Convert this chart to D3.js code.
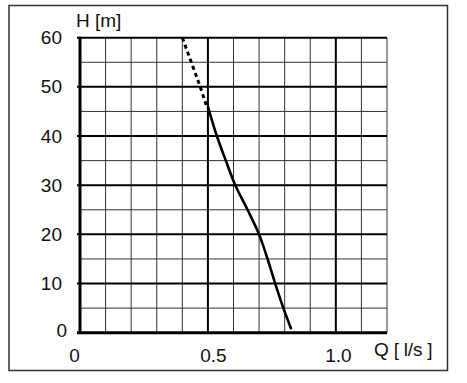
<!DOCTYPE html>
<html><head><meta charset="utf-8">
<script src="https://cdn.jsdelivr.net/npm/d3@7"></script>
<style>body{margin:0;background:#fff;} text{font-family:"Liberation Sans",Arial,sans-serif;fill:#111;}</style>
</head><body><svg id="c" width="467" height="383"></svg>
<script>
const xTicks = [0, 0.5, 1.0];
const xTickLabels = ["0", "0.5", "1.0"];
const yTicks = [0, 10, 20, 30, 40, 50, 60];
const yTickLabels = ["0", "10", "20", "30", "40", "50", "60"];
const xMinor = [0.1,0.2,0.3,0.4,0.6,0.7,0.8,0.9,1.1,1.2];
const yMinor = [5,15,25,35,45,55];
const solidQ = [0.5, 0.535, 0.57, 0.607, 0.655, 0.70, 0.73, 0.763, 0.795, 0.826];
const solidH = [46, 40, 35, 30, 25, 20, 15.5, 10, 5, 0.7];
const dottedQ = [0.40, 0.435, 0.47, 0.495];
const dottedH = [60, 55, 50, 46];

const svg = d3.select("#c");
const x = d3.scaleLinear().domain([0, 1.2]).range([80, 387]);
const y = d3.scaleLinear().domain([0, 60]).range([332.7, 37.7]);

svg.append("rect").attr("x",9).attr("y",5.5).attr("width",438.5).attr("height",365)
  .attr("fill","none").attr("stroke","#333").attr("stroke-width",1.5);

const g = svg.append("g");
g.selectAll(".vm").data(xMinor).join("line")
  .attr("x1",d=>x(d)).attr("x2",d=>x(d)).attr("y1",y(0)).attr("y2",y(60))
  .attr("stroke","#333").attr("stroke-width",1);
g.selectAll(".hm").data(yMinor).join("line")
  .attr("y1",d=>y(d)).attr("y2",d=>y(d)).attr("x1",x(0)).attr("x2",x(1.2))
  .attr("stroke","#333").attr("stroke-width",1);
g.selectAll(".vM").data(xTicks.filter(d=>d>0)).join("line")
  .attr("x1",d=>x(d)).attr("x2",d=>x(d)).attr("y1",y(0)).attr("y2",y(60))
  .attr("stroke","#000").attr("stroke-width",2);
g.selectAll(".hM").data(yTicks.filter(d=>d>0)).join("line")
  .attr("y1",d=>y(d)).attr("y2",d=>y(d)).attr("x1",x(0)-3).attr("x2",x(1.2))
  .attr("stroke","#000").attr("stroke-width",2);
g.append("line").attr("x1",x(0)).attr("x2",x(0)).attr("y1",y(0)+1).attr("y2",y(60)-1)
  .attr("stroke","#000").attr("stroke-width",3);
g.append("line").attr("x1",x(0)-3).attr("x2",x(1.2)).attr("y1",y(0)).attr("y2",y(0))
  .attr("stroke","#000").attr("stroke-width",3);

const yax = d3.axisLeft(y).tickValues(yTicks).tickFormat((d,i)=>yTickLabels[i]).tickSize(0).tickPadding(18);
const ya = svg.append("g").attr("transform","translate("+x(0)+",0)").call(yax);
ya.select(".domain").remove();
ya.selectAll("text").attr("font-size",19).attr("fill","#111")
  .attr("font-family","Liberation Sans, Arial, sans-serif")
  .attr("dx",(d)=>d===0?5:0).attr("dy",(d)=>d===0?"0.22em":"0.32em");

const xax = d3.axisBottom(x).tickValues(xTicks).tickFormat((d,i)=>xTickLabels[i]).tickSize(0).tickPadding(16);
const xa = svg.append("g").attr("transform","translate(0,"+y(0)+")").call(xax);
xa.select(".domain").remove();
const xdx = [-6, 5, 2];
xa.selectAll("text").attr("font-size",19).attr("fill","#111")
  .attr("font-family","Liberation Sans, Arial, sans-serif")
  .attr("dx",(d,i)=>xdx[i]);

svg.append("text").attr("x",76).attr("y",27).attr("font-size",19).text("H [m]");
svg.append("text").attr("x",374).attr("y",356).attr("font-size",19).attr("letter-spacing",-0.2).text("Q [ l/s ]");

const line = d3.line().x(d=>x(d[0])).y(d=>y(d[1])).curve(d3.curveMonotoneY);
svg.append("path").datum(solidQ.map((q,i)=>[q,solidH[i]]))
  .attr("d",line).attr("fill","none").attr("stroke","#000").attr("stroke-width",2.6);
svg.append("path").datum(dottedQ.map((q,i)=>[q,dottedH[i]]))
  .attr("d",line).attr("fill","none").attr("stroke","#000").attr("stroke-width",3)
  .attr("stroke-dasharray","4,3.5");
</script></body></html>
